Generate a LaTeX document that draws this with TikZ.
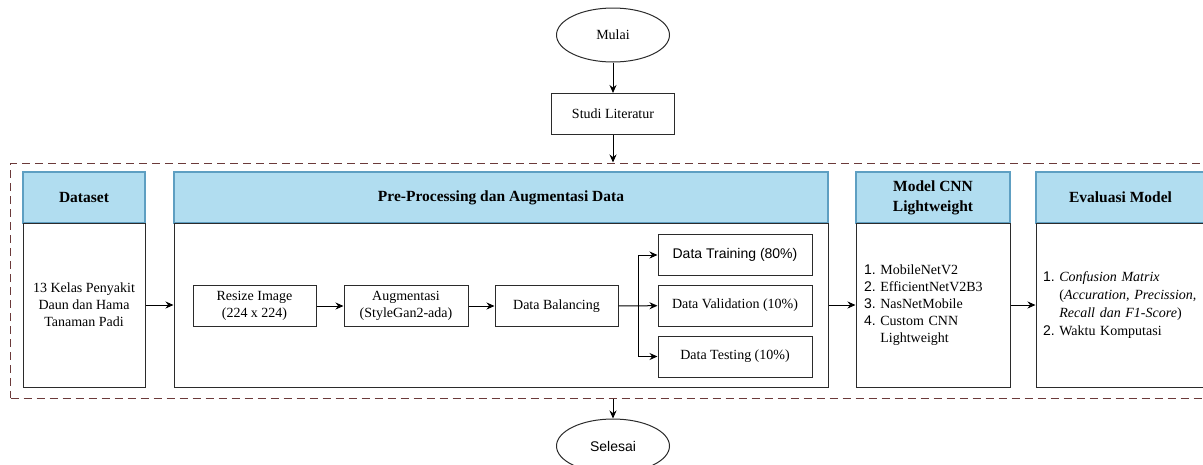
\documentclass[tikz,border=0pt]{standalone}
\usepackage{fontspec}
\setmainfont{Liberation Serif}
\newfontfamily\arialfont{Liberation Sans}
\usetikzlibrary{arrows.meta,positioning,shapes.geometric}
\definecolor{headfill}{HTML}{B1DDF0}
\definecolor{headline}{HTML}{5E9FC2}
\definecolor{frameline}{HTML}{6B3A3A}
\definecolor{boxline}{HTML}{2B2B2B}
\newcommand{\lnum}[1]{{\arialfont #1.}\ }

\begin{document}
\begin{tikzpicture}[
  x=1pt, y=-1pt,
  terminal/.style={ellipse, draw=boxline, line width=1pt, minimum width=113pt, minimum height=54pt, inner sep=0pt, font=\fontsize{14}{17}\selectfont},
  stepbox/.style={rectangle, draw=boxline, line width=1pt, minimum height=41pt, inner sep=2pt, align=center, font=\fontsize{14}{17}\selectfont},
  head/.style={rectangle, draw=headline, fill=headfill, line width=1.2pt, minimum height=51pt, inner sep=2pt, align=center, font=\fontsize{15.5}{20}\selectfont\bfseries},
  body/.style={rectangle, draw=boxline, line width=1pt, minimum height=164pt, inner sep=2pt, align=center, font=\fontsize{14}{17}\selectfont},
  frame/.style={rectangle, draw=frameline, line width=1pt, dash pattern=on 8pt off 5pt},
  arr/.style={-{Stealth[length=8pt,width=7pt]}, line width=1pt, draw=black}
]
  \useasboundingbox (0,0) rectangle (1203,464);

  % start / literature
  \node[terminal] (mulai) at (613,35) {Mulai};
  \node[stepbox, minimum width=123pt] (studi) at (613,114) {Studi Literatur};

  % dashed frame round the stages
  \node[frame, minimum width=1205pt, minimum height=235pt] (stages) at (613,280.5) {};

  % column headers
  \node[head, minimum width=122pt] (hdata) at (84,197.5) {Dataset};
  \node[head, minimum width=654pt] (hpre) at (501,197.5) {Pre-Processing dan Augmentasi Data};
  \node[head, minimum width=154pt] (hmodel) at (933,197.5) {Model CNN\\Lightweight};
  \node[head, minimum width=169pt] (heval) at (1120.5,197.5) {Evaluasi Model};

  % column bodies
  \node[body, minimum width=122pt] (bdata) at (84,305) {13 Kelas Penyakit\\Daun dan Hama\\Tanaman Padi};
  \node[body, minimum width=654pt] (bpre) at (501,305) {};
  \node[body, minimum width=154pt, text width=138pt, inner xsep=8pt, align=left] (bmodel) at (933,305)
    {\lnum{1}MobileNetV2\\\lnum{2}EfficientNetV2B3\\\lnum{3}NasNetMobile\\\lnum{4}Custom CNN\\\phantom{\lnum{4}}Lightweight};
  \node[body, minimum width=169pt, text width=155pt, inner xsep=7pt, align=left, font=\fontsize{14}{18}\selectfont] (beval) at (1120.5,305)
    {\lnum{1}\textit{Confusion Matrix}\\\phantom{\lnum{1}}(\textit{Accuration, Precission,}\\\phantom{\lnum{1}}\textit{Recall dan F1-Score})\\\lnum{2}Waktu Komputasi};

  % pre-processing steps
  \node[stepbox, minimum width=123pt] (resize) at (254.5,306) {Resize Image\\(224 x 224)};
  \node[stepbox, minimum width=124pt] (augment) at (406,306) {Augmentasi\\(StyleGan2-ada)};
  \node[stepbox, minimum width=123pt] (balance) at (556.5,306) {Data Balancing};
  \node[stepbox, minimum width=154pt, font=\arialfont\fontsize{14}{17}\selectfont] (train) at (735,255) {Data Training (80\%)};
  \node[stepbox, minimum width=154pt] (valid) at (735,305.5) {Data Validation (10\%)};
  \node[stepbox, minimum width=154pt] (test) at (735,356.5) {Data Testing (10\%)};
  \coordinate (split) at (638,305.5);

  % end
  \node[terminal, font=\arialfont\fontsize{14}{17}\selectfont] (selesai) at (613,446) {Selesai};

  % connectors
  \draw[arr] (mulai) -- (studi);
  \draw[arr] (studi) -- (stages.north);
  \draw[arr] (bdata) -- (bpre);
  \draw[arr] (resize) -- (augment);
  \draw[arr] (augment) -- (balance);
  \draw[arr] (balance) -- (valid);
  \draw[arr] (split) |- (train);
  \draw[arr] (split) |- (test);
  \draw[arr] (bpre) -- (bmodel);
  \draw[arr] (bmodel) -- (beval);
  \draw[arr] (stages.south) -- (selesai);
\end{tikzpicture}
\end{document}
